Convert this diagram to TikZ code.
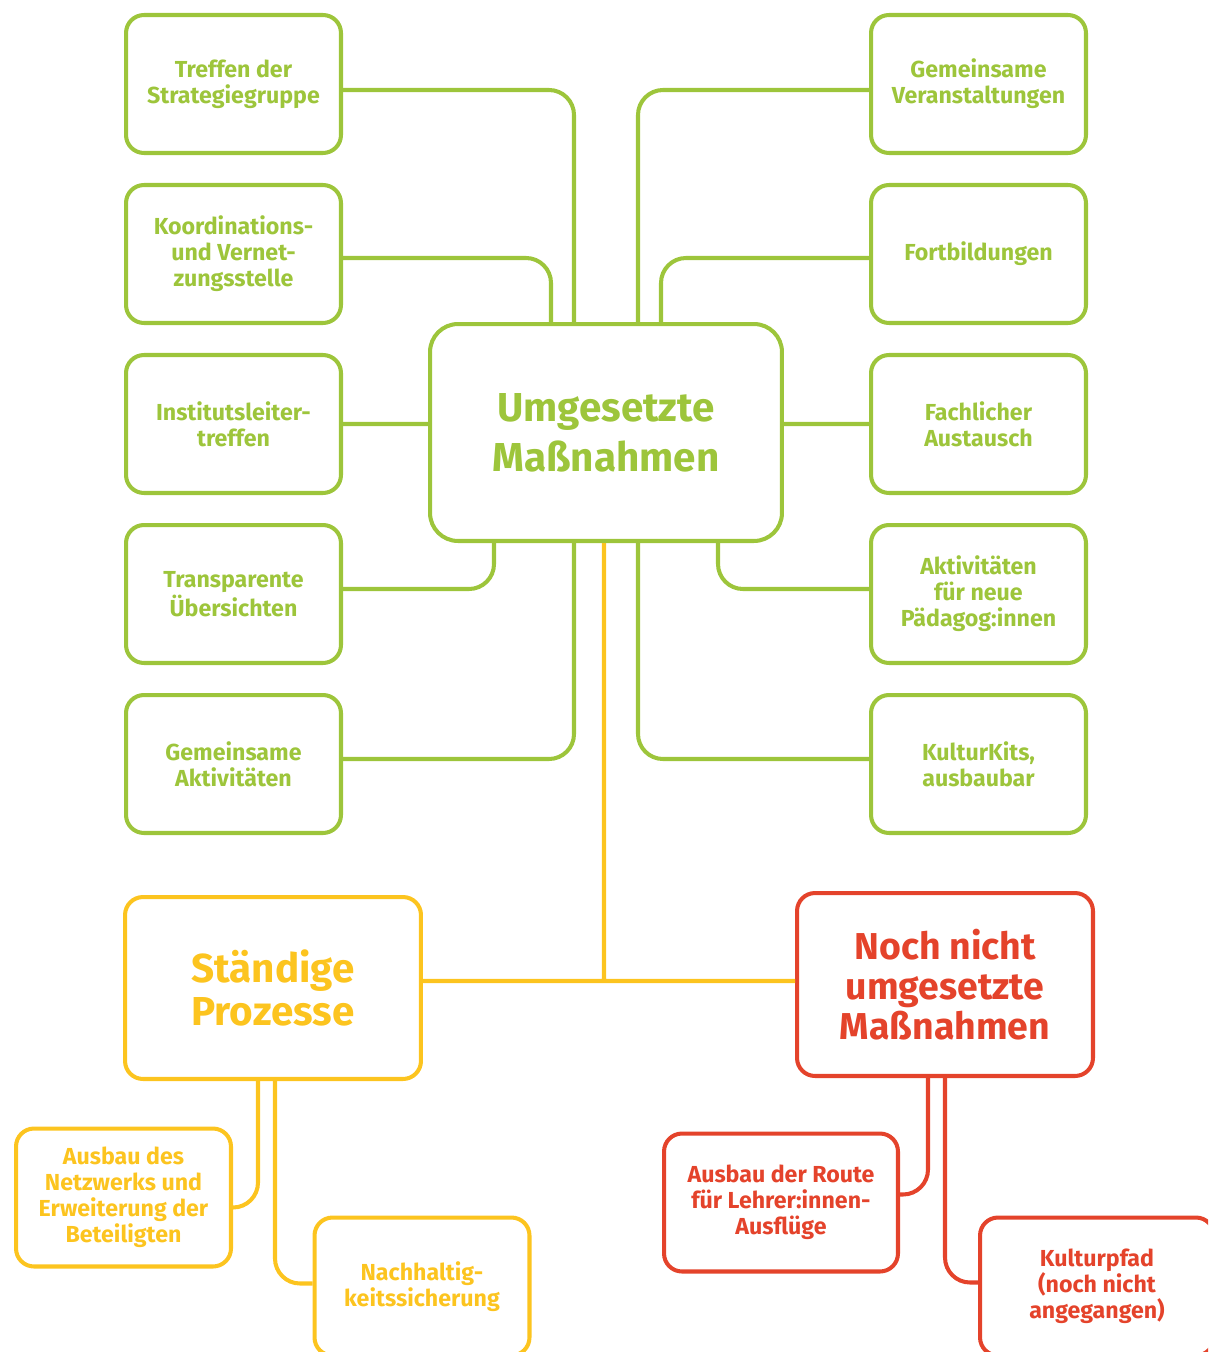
\documentclass[tikz,border=0pt]{standalone}
\usepackage{fontspec}
\setmainfont{Fira Sans}
\usepackage{tikz}
\usetikzlibrary{
    calc,
    positioning
}
\definecolor{gruen}{HTML}{9DC53B}
\definecolor{gelb}{HTML}{FCC41F}
\definecolor{rot}{HTML}{E4432B}

\begin{document}
\begin{tikzpicture}[x=0.02cm, y=-0.02cm,
    box/.style={draw, line width=2.3pt, rounded corners=0.36cm, align=center, inner sep=2pt,
        minimum width=4.3cm, minimum height=2.76cm, font=\bfseries\fontsize{13.2}{14.8}\selectfont},
    gbox/.style={box, draw=gruen, text=gruen},
    ybox/.style={box, draw=gelb, text=gelb},
    rbox/.style={box, draw=rot, text=rot, minimum width=4.68cm},
    link/.style={line width=2.3pt, rounded corners=0.5cm}]
                        \useasboundingbox (0, 0) rectangle (1208, 1352);
                        \clip (0, 0) rectangle (1208, 1352);
                        \node[box, draw=gruen, text=gruen, minimum width=7.04cm, minimum height=4.34cm, rounded corners=0.56cm,
                            font=\bfseries\fontsize{23}{28.5}\selectfont] (mass) at (606, 432.5) {Umgesetzte\\Maßnahmen};
                        \node[gbox] (tref) at (233.5, 84) {Treffen der\\Strategiegruppe};
                        \node[gbox] (koord) at (233.5, 254) {Koordinations-\\und Vernet-\\zungsstelle};
                        \node[gbox] (inst) at (233.5, 424) {Institutsleiter-\\treffen};
                        \node[gbox] (trans) at (233.5, 594) {Transparente\\Übersichten};
                        \node[gbox] (akt) at (233.5, 764) {Gemeinsame\\Aktivitäten};
                        \node[gbox] (veran) at (978.5, 84) {Gemeinsame\\Veranstaltungen};
                        \node[gbox] (fort) at (978.5, 254) {Fortbildungen};
                        \node[gbox] (fach) at (978.5, 424) {Fachlicher\\Austausch};
                        \node[gbox] (paed) at (978.5, 594) {Aktivitäten\\für neue\\Pädagog:innen};
                        \node[gbox] (kits) at (978.5, 764) {KulturKits,\\ausbaubar};
                        \node[box, draw=gelb, text=gelb, minimum width=5.92cm, minimum height=3.64cm,
                            font=\bfseries\fontsize{23}{24.5}\selectfont] (proz) at (273, 988) {Ständige\\Prozesse};
                        \node[box, draw=rot, text=rot, minimum width=5.92cm, minimum height=3.66cm,
                            font=\bfseries\fontsize{21.3}{22.7}\selectfont] (noch) at (945, 984.5) {Noch nicht\\umgesetzte\\Maßnahmen};
                        \node[ybox] (netz) at (123.5, 1197.5) {Ausbau des\\Netzwerks und\\Erweiterung der\\Beteiligten};
                        \node[ybox] (nach) at (422, 1286.5) {Nachhaltig-\\keitssicherung};
                        \node[rbox] (route) at (781, 1202.5) {Ausbau der Route\\für Lehrer:innen-\\Ausflüge};
                        \node[rbox] (pfad) at (1097, 1286.5) {Kulturpfad\\(noch nicht\\angegangen)};
                        \coordinate (mitte) at ($(mass.south) + (-2, 438)$);
                        \draw[link, gruen]
                        ($(tref.east) + (0, 6)$) -| ($(mass.north) + (-32, 0)$)
                        ($(koord.east) + (0, 4)$) -| ($(mass.north) + (-55, 0)$)
                        (inst.east) -- (inst.east -| mass.west)
                        ($(trans.east) + (0, -5)$) -| ($(mass.south) + (-112, 0)$)
                        ($(akt.east) + (0, -5)$) -| ($(mass.south) + (-32, 0)$)
                        ($(veran.west) + (0, 6)$) -| ($(mass.north) + (32, 0)$)
                        ($(fort.west) + (0, 4)$) -| ($(mass.north) + (55, 0)$)
                        (fach.west) -- (fach.west -| mass.east)
                        ($(paed.west) + (0, -5)$) -| ($(mass.south) + (112, 0)$)
                        ($(kits.west) + (0, -5)$) -| ($(mass.south) + (32, 0)$);
                        \draw[link, gelb]
                        (mass.south -| mitte) -- (mitte)
                        (proz.east |- mitte) -- (noch.west |- mitte)
                        ($(proz.south) + (-15, 0)$) |- ($(netz.east) + (0, 10)$)
                        ($(proz.south) + (2, 0)$) |- ($(nach.west) + (0, -3)$);
                        \draw[link, rot]
                        ($(noch.south) + (-17, 0)$) |- ($(route.east) + (0, -8)$)
                        (noch.south) |- ($(pfad.west) + (0, -4)$);
                    \end{tikzpicture}
\end{document}
